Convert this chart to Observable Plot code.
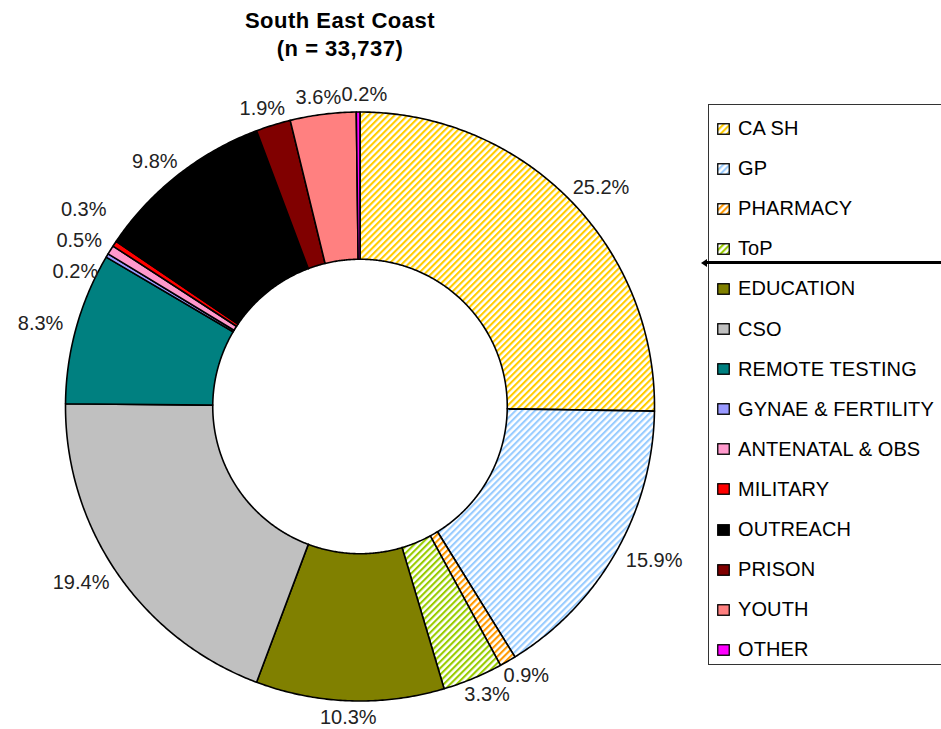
<!DOCTYPE html>
<html><head><meta charset="utf-8">
<script src="https://cdn.jsdelivr.net/npm/d3@7"></script>
<script src="https://cdn.jsdelivr.net/npm/@observablehq/plot@0.6"></script>
<style>
body{margin:0;background:#fff;font-family:Arial,"Liberation Sans",sans-serif;}
#wrap{position:relative;width:941px;height:729px;overflow:hidden;background:#fff;}
#chart{position:absolute;left:0;top:0;}
#title{position:absolute;left:190px;top:7px;width:300px;text-align:center;font-weight:bold;font-size:22px;letter-spacing:0.5px;line-height:28px;color:#000;}
#legend{position:absolute;left:708px;top:104px;width:320px;height:561px;border:1.5px solid #333;box-sizing:border-box;background:#fff;}
.item{position:absolute;left:8px;height:24px;display:flex;align-items:center;font-size:20px;letter-spacing:0.1px;color:#000;white-space:nowrap;}
.item svg{margin-right:8px;flex:none;}
#rule{position:absolute;left:706px;top:261px;width:240px;height:3px;background:#000;}
#arrow{position:absolute;left:701px;top:258.5px;width:0;height:0;border-top:4px solid transparent;border-bottom:4px solid transparent;border-right:6px solid #000;}
</style></head><body>
<div id="wrap">
  <svg width="0" height="0" style="position:absolute"><defs id="defs"></defs></svg>
  <div id="chart"></div>
  <div id="title">South East Coast<br>(n = 33,737)</div>
  <div id="legend"></div>
  <div id="rule"></div>
  <div id="arrow"></div>
</div>
<script>
(function () {
// ---- data ----
const categories = ["CASH","GP","PHARMACY","ToP","EDUCATION","CSO","REMOTE TESTING","GYNAE & FERTILITY","ANTENATAL & OBS","MILITARY","OUTREACH","PRISON","YOUTH","OTHER"];
const shares = [25.2, 15.9, 0.9, 3.3, 10.3, 19.4, 8.3, 0.2, 0.5, 0.3, 9.8, 1.9, 3.6, 0.2];
const baseColors = ["#FFCC00","#99CCFF","#FF9900","#99CC00","#808000","#C0C0C0","#008080","#9999FF","#FF99CC","#FF0000","#000000","#800000","#FF8080","#FF00FF"];
const hatched = ["CASH","GP","PHARMACY","ToP"];
const legendLabels = ["CA SH","GP","PHARMACY","ToP","EDUCATION","CSO","REMOTE TESTING","GYNAE & FERTILITY","ANTENATAL & OBS","MILITARY","OUTREACH","PRISON","YOUTH","OTHER"];

// ---- hatch patterns ----
const defs = d3.select("#defs");
const fills = categories.map((c, i) => {
  if (!hatched.includes(c)) return baseColors[i];
  const id = "hatch" + i;
  const p = defs.append("pattern").attr("id", id).attr("patternUnits", "userSpaceOnUse")
    .attr("width", 4.6).attr("height", 4.6).attr("patternTransform", "rotate(45)");
  p.append("rect").attr("width", 4.6).attr("height", 4.6).attr("fill", "#fff");
  p.append("rect").attr("width", 2.1).attr("height", 4.6).attr("fill", baseColors[i]);
  return `url(#${id})`;
});

// ---- geometry ----
const cx = 359.5, cy = 406, R = 294.5, inner = 0.5;
const pie = d3.pie().sort(null).value(d => d)(shares);
const slices = pie.map((p, i) => {
  const a0 = p.startAngle, a1 = p.endAngle;
  const n = Math.max(2, Math.ceil((a1 - a0) / 0.008));
  const pts = [];
  for (let k = 0; k <= n; k++) { const a = a0 + (a1 - a0) * k / n; pts.push({x: Math.sin(a), y: Math.cos(a)}); }
  for (let k = n; k >= 0; k--) { const a = a0 + (a1 - a0) * k / n; pts.push({x: inner * Math.sin(a), y: inner * Math.cos(a)}); }
  pts.push(pts[0]);
  return {name: categories[i], fill: fills[i], pts};
});

// label boxes placed just outside the ring at mid-angle (in units of the outer radius)
const charW = 13.5 / R, boxH = 14 / R, pad = 1 + 10 / R;
const labelData = pie.map((p, i) => {
  const a = (p.startAngle + p.endAngle) / 2;
  const text = shares[i].toFixed(1) + "%";
  const w = text.length * charW;
  const dx = Math.sin(a), dy = Math.cos(a);
  return {text, w, x: pad * dx + dx * w / 2, y: pad * dy + dy * boxH / 2, side: dx, up: dy};
});
// vertical de-overlap on the left/right sides
const gap = 31 / R;
for (const sgn of [-1, 1]) {
  const side = labelData.filter(d => d.side * sgn > 0.5).sort((a, b) => b.y - a.y);
  const clusters = side.map(d => ({items: [d], c: d.y}));
  const place = cl => cl.items.forEach((d, j) => d.y = cl.c - (j - (cl.items.length - 1) / 2) * gap);
  let merged = true;
  while (merged) {
    merged = false;
    clusters.forEach(place);
    for (let i = 0; i < clusters.length - 1; i++) {
      const A = clusters[i], B = clusters[i + 1];
      if (A.items[A.items.length - 1].y - B.items[0].y < gap - 1e-9) {
        const items = A.items.concat(B.items);
        clusters.splice(i, 2, {items, c: (A.c * A.items.length + B.c * B.items.length) / items.length});
        merged = true; break;
      }
    }
  }
  clusters.forEach(place);
}
// horizontal de-overlap across the top
const topLabels = labelData.filter(d => d.up > 0.85).sort((a, b) => a.x - b.x);
for (let i = 1; i < topLabels.length; i++) {
  const need = (topLabels[i - 1].w + topLabels[i].w) / 2 - 8 / R;
  if (topLabels[i].x - topLabels[i - 1].x < need) topLabels[i].x = topLabels[i - 1].x + need;
}

const chart = Plot.plot({
  width: 941, height: 729, margin: 0,
  x: {domain: [-1, 1], range: [cx - R, cx + R], axis: null},
  y: {domain: [-1, 1], range: [cy + R, cy - R], axis: null},
  marks: [
    ...slices.map(s => Plot.line(s.pts, {x: "x", y: "y", fill: s.fill, stroke: "#000", strokeWidth: 1.6, strokeLinejoin: "round"})),
    Plot.text(labelData, {x: "x", y: "y", text: "text", fontSize: 20, fill: "#222", fontFamily: "Arial, Liberation Sans, sans-serif"})
  ]
});
document.getElementById("chart").appendChild(chart);

// ---- legend ----
const legend = d3.select("#legend");
categories.forEach((c, i) => {
  const it = legend.append("div").attr("class", "item").style("top", (11.5 + i * 40.1) + "px");
  const sw = it.append("svg").attr("width", 13).attr("height", 12);
  sw.append("rect").attr("x", 0.75).attr("y", 0.75).attr("width", 11.5).attr("height", 10.5)
    .attr("fill", fills[i]).attr("stroke", "#000").attr("stroke-width", 1.3);
  it.append("span").text(legendLabels[i]);
});
})();
</script>
</body></html>
